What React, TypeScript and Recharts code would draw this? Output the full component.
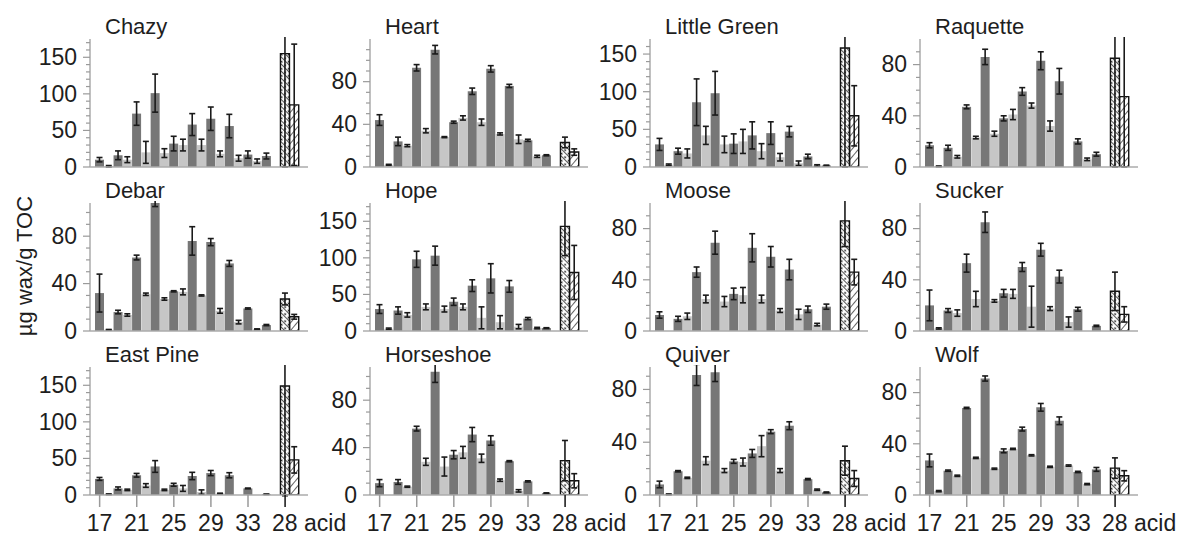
import React from 'react';
import { BarChart, Bar, XAxis, YAxis, ErrorBar, Cell } from 'recharts';

// chain lengths of the n-alkanes, then the two C28 acid bars
const chains = ['17', '18', '19', '20', '21', '22', '23', '24', '25', '26', '27', '28', '29', '30', '31', '32', '33', '34', '35'];
const acidBars = ['28a', '28b'];
const xTickLabels = ['17', '21', '25', '29', '33'];
const acidTickLabel = '28 acid';
const yLabel = 'µg wax/g TOC';

// mean and error for C17..C35, last two values are the C28 acid bars
const chazyMean = [10, 1, 16, 10, 73, 20, 101, 19, 32, 30, 58, 30, 66, 18, 56, 12, 17, 8, 15, 155, 85];
const chazyErr = [3, 1, 6, 4, 16, 15, 26, 6, 10, 8, 15, 8, 16, 4, 16, 4, 5, 3, 4, 155, 83];
const heartMean = [44, 2, 24, 20, 93, 34, 110, 28, 42, 46, 71, 42, 92, 31, 76, 26, 25, 10, 11, 23, 14];
const heartErr = [5, 0.5, 4, 1, 3, 2, 4, 0.5, 1, 2, 3, 3, 3, 1, 1.5, 4, 1, 1, 0.5, 5, 3];
const littleGreenMean = [30, 3, 21, 18, 86, 42, 98, 30, 31, 34, 42, 21, 45, 13, 47, 5, 14, 2, 2, 158, 68];
const littleGreenErr = [8, 1, 4, 6, 31, 12, 29, 11, 13, 16, 18, 10, 15, 5, 7, 3, 3, 1, 0.5, 158, 40];
const raquetteMean = [17, 0.5, 15, 8, 47, 23, 86, 26, 38, 41, 59, 48, 83, 32, 67, 0, 20, 6, 10, 85, 55];
const raquetteErr = [2, 0.3, 2, 1, 1.5, 1, 6, 2, 2, 4, 3, 2, 7, 4, 10, 0, 2, 1, 1.5, 85, 55];
const debarMean = [32, 1, 16, 13.5, 62, 31, 109, 27, 33.5, 33, 76, 30, 75, 17, 57, 7.5, 19, 1.5, 5, 27, 12];
const debarErr = [16, 0.3, 1.5, 1, 2, 1, 4, 1, 0.5, 2.5, 12, 0.5, 3, 2, 2.5, 1.5, 0.5, 0.3, 0.5, 5, 2];
const hopeMean = [30, 3, 28, 22, 98, 33, 103, 30, 40, 33, 62, 18, 72, 12, 61, 6, 17, 4, 4, 143, 80];
const hopeErr = [6, 1, 5, 3, 11, 4, 13, 4, 5, 4, 8, 15, 20, 9, 8, 3, 1.5, 1, 0.5, 40, 37];
const mooseMean = [12.5, 0, 9.5, 11.5, 46, 25, 69, 23, 29, 28, 65, 25, 58, 16, 48, 13, 17, 5, 19, 86, 46];
const mooseErr = [2.5, 0, 2, 2.5, 4, 3, 9, 4, 4.5, 6, 11, 3, 8, 1.5, 8, 4, 2.5, 1, 2, 20, 10];
const suckerMean = [20, 2, 16, 14, 53, 25, 85, 23.5, 29.5, 29, 50, 19, 63.5, 17.5, 42.5, 7, 17, 0, 4, 31, 13];
const suckerErr = [12, 0.5, 1.5, 2.5, 7, 6, 8, 1, 3, 3.5, 3.5, 16, 5, 1.5, 5, 4, 1.5, 0, 0.5, 15, 6];
const eastPineMean = [22, 1, 9, 7, 27, 13, 39, 7, 14, 9, 26, 4, 30, 2, 27, 0, 9, 0, 1, 149, 48];
const eastPineErr = [2, 0.5, 2, 1, 2.5, 2.5, 8, 1, 2, 4, 5, 3, 3.5, 0.5, 3.5, 0, 0.5, 0, 0.3, 150, 18];
const horseshoeMean = [10, 0, 11, 7, 56, 28, 104, 24, 34, 36, 51, 31, 46, 12.5, 28.5, 3.5, 11.5, 0, 1.5, 29, 12];
const horseshoeErr = [3, 0, 2, 0.5, 2, 3, 9, 8, 3.5, 5, 6, 3.5, 4, 1, 0.5, 1, 0.5, 0, 0.3, 17, 6];
const quiverMean = [8, 0.5, 18, 13, 91, 26, 93, 18.5, 25.5, 25, 31.5, 37, 48, 18.5, 52.5, 0, 12, 4, 2, 26, 12.5];
const quiverErr = [2.5, 0.3, 0.5, 0.5, 8, 3, 7, 1.5, 1.5, 3, 3, 8, 1.5, 1.5, 3, 0, 0.5, 0.5, 0.3, 11, 6];
const wolfMean = [27, 3, 19, 15, 68, 29, 91, 20.5, 34.5, 36, 51.5, 31, 68.5, 22, 58, 23, 18, 8.5, 20, 21, 15];
const wolfErr = [5, 0.5, 0.5, 0.5, 0.5, 0.5, 2, 0.5, 1.5, 0.5, 1.5, 0.5, 3, 0.5, 3, 0.5, 0.5, 0.5, 1.5, 8, 4];

const sites = [
  { name: 'Chazy', mean: chazyMean, err: chazyErr, yMax: 175, step: 50 },
  { name: 'Heart', mean: heartMean, err: heartErr, yMax: 120, step: 40 },
  { name: 'Little Green', mean: littleGreenMean, err: littleGreenErr, yMax: 170, step: 50 },
  { name: 'Raquette', mean: raquetteMean, err: raquetteErr, yMax: 100, step: 40 },
  { name: 'Debar', mean: debarMean, err: debarErr, yMax: 108, step: 40 },
  { name: 'Hope', mean: hopeMean, err: hopeErr, yMax: 175, step: 50 },
  { name: 'Moose', mean: mooseMean, err: mooseErr, yMax: 100, step: 40 },
  { name: 'Sucker', mean: suckerMean, err: suckerErr, yMax: 100, step: 40 },
  { name: 'East Pine', mean: eastPineMean, err: eastPineErr, yMax: 175, step: 50 },
  { name: 'Horseshoe', mean: horseshoeMean, err: horseshoeErr, yMax: 108, step: 40 },
  { name: 'Quiver', mean: quiverMean, err: quiverErr, yMax: 97, step: 40 },
  { name: 'Wolf', mean: wolfMean, err: wolfErr, yMax: 100, step: 40 },
];

const FONT = '"Liberation Sans", Arial, sans-serif';
const DARK = '#777777';
const LIGHT = '#c6c6c6';
const FRAME = '#ababab';
const TEXT = '#1e1e1e';
const PW = 218;
const PH = 128;
const AXW = 70;
const RM = 50;
const colLeft = [90, 370, 650, 920];
const rowTop = [38.5, 203, 367];

const buildRows = (mean: number[], err: number[]) => {
  const rows: any[] = chains.map((c, i) => ({ c, v: mean[i], e: err[i], kind: i % 2 === 0 ? 'odd' : 'even' }));
  rows.push({ c: 'gap', v: null, e: null, kind: 'gap' });
  acidBars.forEach((c, j) => {
    const k = chains.length + j;
    rows.push({ c, v: mean[k], e: err[k], kind: j === 0 ? 'acidA' : 'acidB' });
  });
  return rows;
};

const makeYTick = (step: number) => (props: any) => {
  const { x, y, payload } = props;
  const v = payload.value;
  const major = v % step === 0;
  return (
    <g>
      <line x1={x} x2={x - (major ? 7 : 4)} y1={y} y2={y} stroke="#9a9a9a" strokeWidth={1.2} />
      {major && (
        <text x={x - 13} y={y} dy="0.34em" textAnchor="end" fontSize={23} fontFamily={FONT} fill={TEXT}>
          {v}
        </text>
      )}
    </g>
  );
};

const renderXTick = (props: any) => {
  const { x, y, payload } = props;
  const v = payload.value;
  if (v === acidBars[0]) {
    return (
      <g>
        <line x1={x} x2={x} y1={y} y2={y + 12} stroke="#111" strokeWidth={1.5} />
        <text x={x - 13} y={y + 36} textAnchor="start" fontSize={23} fontFamily={FONT} fill={TEXT}>
          {acidTickLabel}
        </text>
      </g>
    );
  }
  if (xTickLabels.includes(v)) {
    return (
      <g>
        <line x1={x} x2={x} y1={y} y2={y + 12} stroke="#9a9a9a" strokeWidth={1.5} />
        <text x={x} y={y + 36} textAnchor="middle" fontSize={23} fontFamily={FONT} fill={TEXT}>
          {v}
        </text>
      </g>
    );
  }
  return <g />;
};

const Panel = ({ site, idx }: { site: any; idx: number }) => {
  const col = idx % 4;
  const row = Math.floor(idx / 4);
  const bottom = row === 2;
  const XH = bottom ? 45 : 1;
  const BM = bottom ? 0 : 14;
  const data = buildRows(site.mean, site.err);
  const ticks: number[] = [];
  for (let t = 0; t < site.yMax; t += 10) ticks.push(t);
  const pA = `hatchA${idx}`;
  const pB = `hatchB${idx}`;
  const fillFor = (kind: string) =>
    kind === 'odd' ? DARK : kind === 'even' ? LIGHT : kind === 'acidA' ? `url(#${pA})` : `url(#${pB})`;

  return (
    <div style={{ position: 'absolute', left: colLeft[col] - AXW, top: rowTop[row] - 2 }}>
      <BarChart
        width={AXW + PW + RM}
        height={2 + PH + XH + BM}
        data={data}
        margin={{ top: 2, right: RM, left: 0, bottom: BM }}
        barCategoryGap={0}
        barGap={0}
      >
        <defs>
          <pattern id={pA} patternUnits="userSpaceOnUse" width={5} height={5} patternTransform="rotate(-45)">
            <rect width={5} height={5} fill="#fff" />
            <line x1={0} y1={0} x2={0} y2={5} stroke="#111" strokeWidth={1.4} />
            <circle cx={2.5} cy={2.5} r={0.9} fill="#111" />
          </pattern>
          <pattern id={pB} patternUnits="userSpaceOnUse" width={5} height={5} patternTransform="rotate(40)">
            <rect width={5} height={5} fill="#fff" />
            <line x1={0} y1={0} x2={0} y2={5} stroke="#111" strokeWidth={1.3} />
          </pattern>
        </defs>
        <XAxis
          dataKey="c"
          height={XH}
          interval={0}
          tickLine={false}
          tickSize={0}
          tickMargin={0}
          tick={bottom ? renderXTick : false}
          axisLine={{ stroke: FRAME, strokeWidth: 1.5 }}
          padding={{ left: 5, right: 9 }}
        />
        <XAxis
          xAxisId="top"
          orientation="top"
          dataKey="c"
          height={0}
          tick={false}
          tickLine={false}
          axisLine={{ stroke: FRAME, strokeWidth: 1.5 }}
        />
        <YAxis
          width={AXW}
          domain={[0, site.yMax]}
          allowDataOverflow
          ticks={ticks}
          interval={0}
          tickLine={false}
          tickSize={0}
          tickMargin={0}
          tick={makeYTick(site.step)}
          axisLine={{ stroke: FRAME, strokeWidth: 1.5 }}
        />
        <YAxis
          yAxisId="right"
          orientation="right"
          width={0}
          tick={false}
          tickLine={false}
          axisLine={{ stroke: FRAME, strokeWidth: 1.5 }}
        />
        <Bar dataKey="v" isAnimationActive={false}>
          {data.map((d: any, i: number) => {
            const hatched = d.kind === 'acidA' || d.kind === 'acidB';
            return (
              <Cell
                key={i}
                fill={fillFor(d.kind)}
                stroke={hatched ? '#111' : 'none'}
                strokeWidth={hatched ? 1.4 : 0}
              />
            );
          })}
          <ErrorBar dataKey="e" width={3} stroke="#1a1a1a" strokeWidth={1.6} isAnimationActive={false} />
        </Bar>
      </BarChart>
    </div>
  );
};

export default function App() {
  return (
    <div style={{ position: 'absolute', left: 0, top: 0, width: 1178, height: 537, background: '#fff', overflow: 'hidden' }}>
      {sites.map((s, i) => (
        <Panel key={s.name} site={s} idx={i} />
      ))}
      <svg width={1178} height={537} style={{ position: 'absolute', left: 0, top: 0, pointerEvents: 'none' }}>
        {sites.map((s, i) => (
          <text
            key={s.name}
            x={colLeft[i % 4] + 15}
            y={rowTop[Math.floor(i / 4)] - 5}
            fontSize={22}
            fontFamily={FONT}
            fill={TEXT}
          >
            {s.name}
          </text>
        ))}
        <text
          transform="translate(32,266) rotate(-90)"
          textAnchor="middle"
          fontSize={22}
          fontFamily={FONT}
          fill={TEXT}
        >
          {yLabel}
        </text>
      </svg>
    </div>
  );
}
